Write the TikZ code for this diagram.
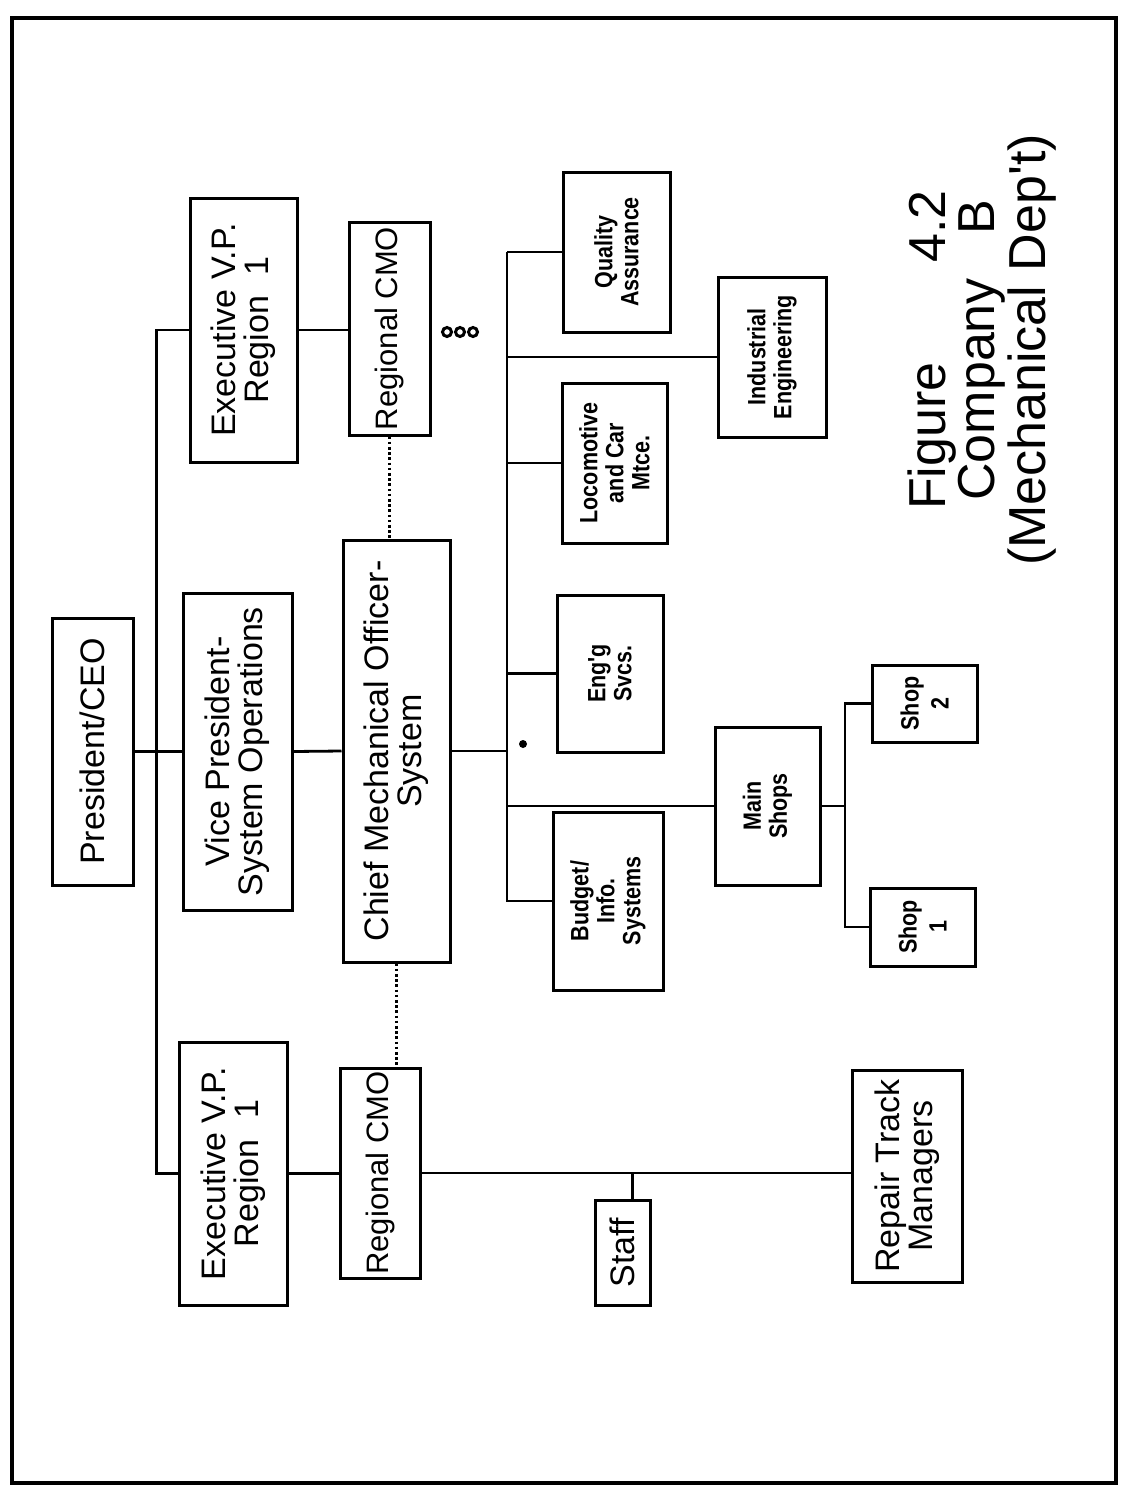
\documentclass[tikz,border=0pt]{standalone}
\usepackage{fontspec}
\setmainfont{Liberation Sans}
\newfontfamily\smallfont{Liberation Sans}[FakeStretch=0.86]
\newfontfamily\titlefont{Liberation Sans}
\begin{document}
\begin{tikzpicture}[x=0.5pt,y=-0.5pt,
  box/.style={draw, line width=1.5pt, rectangle, rotate=90, inner sep=0pt, align=center},
  big/.style={box, font=\fontsize{17}{16.5}\selectfont},
  small/.style={box, font=\smallfont\bfseries\fontsize{12.5}{13}\selectfont},
  link/.style={line width=1.4pt},
  dotlink/.style={line width=1.3pt, dash pattern=on 1.3pt off 1.3pt},
  ring/.style={circle, draw, line width=1.5pt, inner sep=0pt, minimum size=4.5pt}]

\useasboundingbox (0,0) rectangle (1120,1489);
\draw[line width=2pt] (12,18) rectangle (1116,1483);

% top of the chart
\node[big, minimum width=133.5pt, minimum height=40.5pt] (pres) at (92.5,751.5) {President/CEO};
\node[big, minimum width=158.5pt, minimum height=54.5pt] (vp) at (237.5,751.5) {Vice President-\\System Operations};
\node[big, minimum width=132pt, minimum height=53.5pt] (evpa) at (243.5,330) {Executive V.P.\\Region\hspace{0.6em}1};
\node[big, minimum width=131.5pt, minimum height=54pt] (evpb) at (233,1173.5) {Executive V.P.\\Region\hspace{0.6em}1};

% mechanical officers
\node[big, font=\fontsize{15.5}{16}\selectfont, minimum width=106.5pt, minimum height=40.5pt] (rca) at (389.5,328.5) {Regional CMO};
\node[big, font=\fontsize{15.5}{16}\selectfont, minimum width=105pt, minimum height=40pt] (rcb) at (380,1173) {Regional CMO};
\node[big, minimum width=211pt, minimum height=53.5pt] (cmos) at (396.5,751) {Chief Mechanical Officer-\\System};

% regional staff
\node[big, minimum width=52.5pt, minimum height=27.5pt] (staff) at (622.5,1252.5) {Staff};
\node[big, minimum width=106pt, minimum height=55pt] (repair) at (907,1176) {Repair Track\\Managers};

% system departments
\node[small, minimum width=89pt, minimum height=55pt] (budget) at (608,901) {Budget/\\Info.\\Systems};
\node[small, minimum width=78.5pt, minimum height=53pt] (engg) at (610,673.5) {Eng'g\\Svcs.};
\node[small, minimum width=80pt, minimum height=52.5pt] (loco) at (614.5,463) {Locomotive\\and Car\\Mtce.};
\node[small, minimum width=80pt, minimum height=53.5pt] (qa) at (616.5,252) {Quality\\Assurance};
\node[small, minimum width=79pt, minimum height=52.5pt] (ms) at (767.5,806) {Main\\Shops};
\node[small, minimum width=80pt, minimum height=54pt] (indeng) at (772,357) {Industrial\\Engineering};
\node[small, minimum width=39pt, minimum height=52.5pt] (shop1) at (922.5,927) {Shop\\[2pt]1};
\node[small, minimum width=38.5pt, minimum height=52.5pt] (shop2) at (924.5,703.5) {Shop\\[2pt]2};

% marks
\node[circle, fill, inner sep=0pt, minimum size=4pt] (dot) at (523,744) {};
\node[ring] (ring1) at (447,332) {};
\node[ring] (ring2) at (460,332) {};
\node[ring] (ring3) at (473,332) {};

% title
\node[rotate=90, align=center, inner sep=0pt, font=\titlefont\fontsize{26}{23}\selectfont] (title) at (982,350)
  {Figure\hspace{50pt}4.2\\Company\hspace{22pt}B\\(Mechanical Dep't)};

% connectors
\draw[link] (pres.south) -- (vp.north);
\draw[link] (vp.south) -- (cmos.north);
\draw[link] (evpa.north) -- ++(-32,0) |- (evpb.north);
\draw[link] (evpa.south) -- (evpa.south -| rca.north);
\draw[link] (evpb.south) -- (evpb.south -| rcb.north);
\draw[dotlink] (rca.west) -- (rca.west |- cmos.east);
\draw[dotlink] (cmos.west) -- (cmos.west |- rcb.east);
\draw[link] (rcb.south) -- (rcb.south -| repair.north);
\coordinate (stafftop) at ([xshift=5pt]staff.east);
\draw[link] (stafftop) -- (stafftop |- rcb.south);

\coordinate (busT) at (507,252);
\draw[link] (busT) |- (budget.north);
\draw[link] (qa.north) -- (qa.north -| busT);
\draw[link] (indeng.north) -- (indeng.north -| busT);
\draw[link] (loco.north) -- (loco.north -| busT);
\draw[link] (engg.north) -- (engg.north -| busT);
\draw[link] (cmos.south) -- (cmos.south -| busT);
\draw[link] (ms.north) -- (ms.north -| busT);

\coordinate (sbus) at (845,806);
\draw[link] (ms.south) -- (sbus);
\draw[link] (shop2.north) -| (sbus);
\draw[link] (shop1.north) -| (sbus);
\end{tikzpicture}
\end{document}
